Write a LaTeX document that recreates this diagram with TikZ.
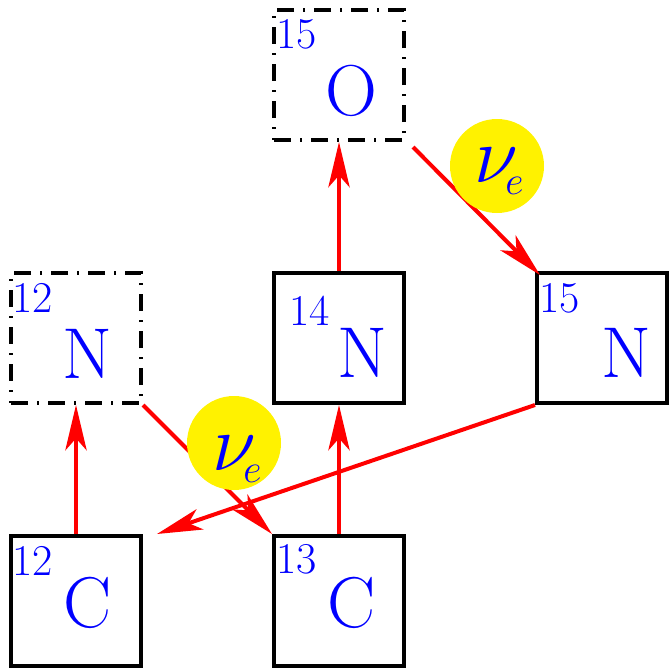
\RequirePackage{fix-cm}
\documentclass[tikz,border=0pt]{standalone}
\usetikzlibrary{arrows.meta}
\newcommand\nusubscript{\kern-9.5pt\raisebox{-9pt}{\fontsize{30}{32}\selectfont$e$}}
\begin{document}
\begin{tikzpicture}[x=0.75pt,y=-0.75pt,
  nucleus/.style={draw=black,line width=3pt,minimum size=97.5pt,inner sep=0pt},
  unstable/.style={nucleus,dash pattern=on 12.75pt off 6.75pt on 1.5pt off 6.75pt},
  mass/.style={text=blue,font=\fontsize{33}{36}\selectfont,inner sep=0pt,anchor=base west},
  elem/.style={text=blue,font=\fontsize{54}{60}\selectfont,inner sep=0pt,anchor=base west},
  flow/.style={draw=red,line width=3pt,-{Stealth[length=34pt,width=16pt,inset=9pt]}},
  neutrino/.style={circle,fill=yellow,minimum size=70.5pt,inner sep=0pt},
  nusym/.style={text=blue,font=\fontsize{60}{70}\selectfont,inner sep=0pt,anchor=base west}]
\useasboundingbox (0,0) rectangle (670,671);

% nuclei of the CNO cycle
\node[unstable] (O15) at (339,75) {};
\node[unstable] (N12) at (76,338) {};
\node[nucleus]  (N14) at (339,338) {};
\node[nucleus]  (N15) at (602,338) {};
\node[nucleus]  (C12) at (76,601) {};
\node[nucleus]  (C13) at (339,601) {};

% mass numbers and element symbols
\node[mass] (O15m) at (276,48) {15};
\node[elem] (O15e) at (325,115) {O};
\node[mass] (N12m) at (12,312) {12};
\node[elem] (N12e) at (62,378) {N};
\node[mass] (N14m) at (289,325) {14};
\node[elem] (N14e) at (337,377) {N};
\node[mass] (N15m) at (539,312) {15};
\node[elem] (N15e) at (601,377) {N};
\node[mass] (C12m) at (12,575) {12};
\node[elem] (C12e) at (63,627) {C};
\node[mass] (C13m) at (276,573) {13};
\node[elem] (C13e) at (327,627) {C};

% reaction arrows
\coordinate (O15out) at ([shift={(7,5)}]O15.south east);
\coordinate (N15in) at ([shift={(5,4)}]N15.north west);
\coordinate (C12in) at ([shift={(14,0)}]C12.north east);
\draw[flow] (C12.north) -- (N12.south);
\draw[flow] (C13.north) -- (N14.south);
\draw[flow] (N14.north) -- (O15.south);
\draw[flow] (O15out) -- (N15in);
\draw[flow] (N12.south east) -- (C13.north west);
\draw[flow] (N15.south west) -- (C12in);

% emitted neutrinos
\node[neutrino] (nuA) at (234,443) {};
\node[nusym] (nuAs) at (212,470) {$\nu$\nusubscript};
\node[neutrino] (nuB) at (497,166) {};
\node[nusym] (nuBs) at (474,182) {$\nu$\nusubscript};
\end{tikzpicture}
\end{document}
